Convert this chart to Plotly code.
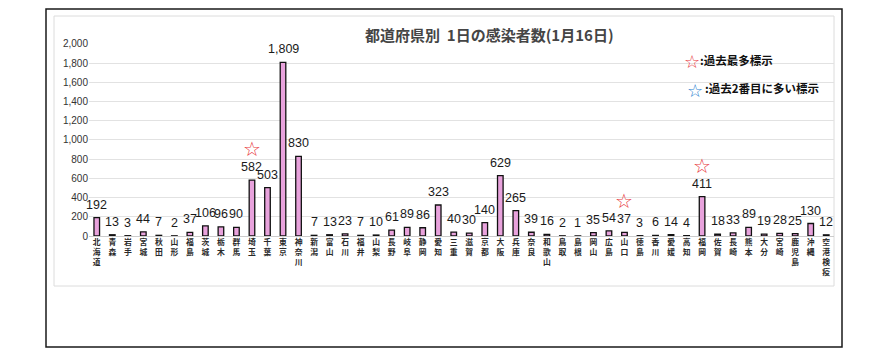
import plotly.graph_objects as go

prefectures = ["北海道", "青森", "岩手", "宮城", "秋田", "山形", "福島", "茨城", "栃木", "群馬",
               "埼玉", "千葉", "東京", "神奈川", "新潟", "富山", "石川", "福井", "山梨", "長野",
               "岐阜", "静岡", "愛知", "三重", "滋賀", "京都", "大阪", "兵庫", "奈良", "和歌山",
               "鳥取", "島根", "岡山", "広島", "山口", "徳島", "香川", "愛媛", "高知", "福岡",
               "佐賀", "長崎", "熊本", "大分", "宮崎", "鹿児島", "沖縄", "空港検疫"]
cases = [192, 13, 3, 44, 7, 2, 37, 106, 96, 90,
         582, 503, 1809, 830, 7, 13, 23, 7, 10, 61,
         89, 86, 323, 40, 30, 140, 629, 265, 39, 16,
         2, 1, 35, 54, 37, 3, 6, 14, 4, 411,
         18, 33, 89, 19, 28, 25, 130, 12]
record_high = ["埼玉", "山口", "福岡"]
y_ticks = [0, 200, 400, 600, 800, 1000, 1200, 1400, 1600, 1800, 2000]

title_text = "都道府県別  1日の感染者数(1月16日)"
legend_red = ":過去最多標示"
legend_blue = ":過去2番目に多い標示"

W, H = 877, 362
OFF = 8  # page body margin offset
L, R, T, B = 89 - OFF, 834 - OFF, 43 - OFF, 236 - OFF


def px(x):
    return (x - OFF - L) / (R - L)


def py(y):
    return (B - (y - OFF)) / (B - T)


vertical_labels = ["<br>".join(list(p)) for p in prefectures]

fig = go.Figure()
fig.add_trace(go.Bar(
    x=prefectures, y=cases,
    width=0.36,
    marker=dict(color="#e8a2dc", line=dict(color="#111111", width=1.3)),
    hoverinfo="x+y",
))

annotations = []
for p, v in zip(prefectures, cases):
    annotations.append(dict(x=p, y=v, xref="x", yref="y", text=f"{v:,}", showarrow=False,
                            yanchor="bottom", yshift=4,
                            font=dict(family="Liberation Sans, Arial, sans-serif", size=12.5,
                                      color="#1a1a1a")))
    if p in record_high:
        annotations.append(dict(x=p, y=v, xref="x", yref="y", text="☆", showarrow=False,
                                yshift=31, font=dict(family="DejaVu Sans", size=20, color="#e8383d")))

annotations.append(dict(x=px(489), y=py(34), xref="paper", yref="paper", text=title_text,
                        showarrow=False, xanchor="center", yanchor="middle",
                        font=dict(family="Noto Sans CJK JP", size=15, color="#454545", weight="bold")))
annotations.append(dict(x=px(692), y=py(61), xref="paper", yref="paper", text="☆",
                        showarrow=False, xanchor="center", yanchor="middle",
                        font=dict(family="DejaVu Sans", size=18, color="#e8383d")))
annotations.append(dict(x=px(698), y=py(60), xref="paper", yref="paper", text=legend_red,
                        showarrow=False, xanchor="left", yanchor="middle",
                        font=dict(family="Noto Sans CJK JP", size=11.5, color="#111111", weight="bold")))
annotations.append(dict(x=px(695), y=py(90), xref="paper", yref="paper", text="☆",
                        showarrow=False, xanchor="center", yanchor="middle",
                        font=dict(family="DejaVu Sans", size=18, color="#2a7fd0")))
annotations.append(dict(x=px(703), y=py(88), xref="paper", yref="paper", text=legend_blue,
                        showarrow=False, xanchor="left", yanchor="middle",
                        font=dict(family="Noto Sans CJK JP", size=11.5, color="#111111", weight="bold")))

shapes = [
    dict(type="rect", xref="paper", yref="paper", x0=px(46), x1=px(842), y0=py(347), y1=py(9),
         line=dict(color="#1a1a1a", width=1.5), layer="below"),
    dict(type="rect", xref="paper", yref="paper", x0=px(54), x1=px(834), y0=py(286), y1=py(16),
         line=dict(color="#dcdcdc", width=1), layer="below"),
]

fig.update_layout(
    width=W, height=H,
    margin=dict(l=L, r=W - R, t=T, b=H - B),
    paper_bgcolor="#ffffff", plot_bgcolor="#ffffff",
    showlegend=False,
    bargap=0.6,
    annotations=annotations,
    shapes=shapes,
    xaxis=dict(
        tickmode="array", tickvals=prefectures, ticktext=vertical_labels,
        tickangle=0, showgrid=False, ticks="", showline=False,
        tickfont=dict(family="Noto Sans CJK JP", size=7.8, color="#2a2a2a", weight="bold"),
        range=[-0.5, len(prefectures) - 0.5],
    ),
    yaxis=dict(
        range=[0, 2010], tickmode="array", tickvals=y_ticks, tickformat=",",
        showgrid=True, gridcolor="#e2e2e2", gridwidth=1,
        zeroline=True, zerolinecolor="#cccccc", zerolinewidth=1,
        showline=False, ticks="",
        tickfont=dict(family="Liberation Sans, Arial, sans-serif", size=10, color="#333333"),
    ),
)

fig.write_html("out.html")
